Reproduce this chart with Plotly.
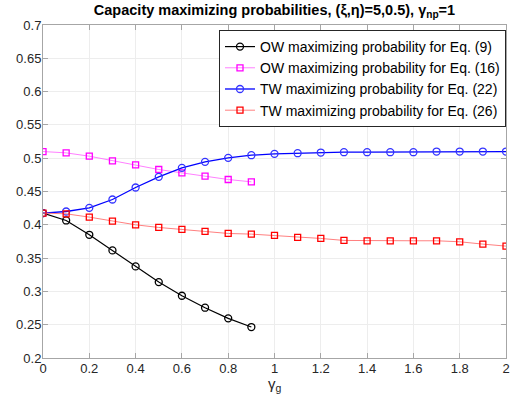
import plotly.graph_objects as go

x_ow = [0, 0.1, 0.2, 0.3, 0.4, 0.5, 0.6, 0.7, 0.8, 0.9]
x_tw = [0, 0.1, 0.2, 0.3, 0.4, 0.5, 0.6, 0.7, 0.8, 0.9, 1.0,
        1.1, 1.2, 1.3, 1.4, 1.5, 1.6, 1.7, 1.8, 1.9, 2.0]

ow_eq9 = [0.4175, 0.4065, 0.385, 0.3615, 0.3375, 0.314, 0.2935, 0.2755, 0.2595, 0.2465]
ow_eq16 = [0.510, 0.508, 0.503, 0.496, 0.490, 0.483, 0.478, 0.473, 0.468, 0.4645]
tw_eq22 = [0.4175, 0.420, 0.4255, 0.438, 0.456, 0.472, 0.4855, 0.4945, 0.5005, 0.5045,
           0.5065, 0.5075, 0.5085, 0.509, 0.509, 0.509, 0.509, 0.510, 0.510, 0.510, 0.510]
tw_eq26 = [0.4175, 0.4165, 0.4115, 0.4055, 0.400, 0.396, 0.393, 0.390, 0.387, 0.386,
           0.384, 0.381, 0.3795, 0.3765, 0.376, 0.376, 0.376, 0.376, 0.3745, 0.371, 0.368]

names = ["OW maximizing probability for Eq. (9)",
         "OW maximizing probability for Eq. (16)",
         "TW maximizing probability for Eq. (22)",
         "TW maximizing probability for Eq. (26)"]

x_ticks = [0, 0.2, 0.4, 0.6, 0.8, 1, 1.2, 1.4, 1.6, 1.8, 2]
x_tick_labels = ["0", "0.2", "0.4", "0.6", "0.8", "1", "1.2", "1.4", "1.6", "1.8", "2"]
y_ticks = [0.2, 0.25, 0.3, 0.35, 0.4, 0.45, 0.5, 0.55, 0.6, 0.65, 0.7]
y_tick_labels = ["0.2", "0.25", "0.3", "0.35", "0.4", "0.45", "0.5", "0.55", "0.6", "0.65", "0.7"]

FONT = "Liberation Sans, Arial, Helvetica, sans-serif"
TXT = "#262626"

fig = go.Figure()
fig.add_trace(go.Scatter(x=x_ow, y=ow_eq9, name=names[0], mode="lines+markers",
                         line=dict(color="#000000", width=1.2),
                         marker=dict(symbol="circle-open", size=7, color="#000000",
                                     line=dict(width=1.3))))
fig.add_trace(go.Scatter(x=x_ow, y=ow_eq16, name=names[1], mode="lines+markers",
                         line=dict(color="#ff80ff", width=1),
                         marker=dict(symbol="square-open", size=6, color="#ff00ff",
                                     line=dict(width=1.3))))
fig.add_trace(go.Scatter(x=x_tw, y=tw_eq22, name=names[2], mode="lines+markers",
                         line=dict(color="#0000ff", width=1.3),
                         marker=dict(symbol="circle-open", size=7, color="#3333ff",
                                     line=dict(width=1.3))))
fig.add_trace(go.Scatter(x=x_tw, y=tw_eq26, name=names[3], mode="lines+markers",
                         line=dict(color="#ff8080", width=1),
                         marker=dict(symbol="square-open", size=6, color="#ff0000",
                                     line=dict(width=1.3))))

axis_common = dict(showline=True, linecolor="#a6a6a6", linewidth=1, mirror="ticks",
                   ticks="inside", ticklen=5, tickcolor="#a6a6a6", tickwidth=1,
                   showgrid=True, gridcolor="#ededed", gridwidth=1, zeroline=False,
                   automargin=False,
                   tickfont=dict(family=FONT, size=13, color=TXT))

fig.update_xaxes(range=[0, 2], tickvals=x_ticks, ticktext=x_tick_labels,
                 ticklabelstandoff=-2, **axis_common)
fig.update_yaxes(range=[0.2, 0.7], tickvals=y_ticks, ticktext=y_tick_labels,
                 ticklabelstandoff=-2, **axis_common)

fig.add_annotation(text="γ<sub>g</sub>", x=1, xref="x", y=-0.045, yref="paper",
                   xanchor="center", yanchor="top", showarrow=False,
                   font=dict(family=FONT, size=15, color=TXT))

fig.update_layout(
    width=516, height=400,
    margin=dict(l=43, r=10, t=25, b=42),
    paper_bgcolor="white", plot_bgcolor="white",
    title=dict(text="<b>Capacity maximizing probabilities, (ξ,η)=5,0.5), γ<sub>np</sub>=1</b>",
               x=(43 + 506) / 2 / 516, xanchor="center", y=0.975, yanchor="middle",
               font=dict(family=FONT, size=14.5, color="#000000")),
    legend=dict(x=1.0, xanchor="right", y=0.985, yanchor="top",
                bgcolor="white", bordercolor="#262626", borderwidth=1,
                font=dict(family=FONT, size=14, color="#000000"),
                tracegroupgap=0, itemwidth=30),
    showlegend=True,
)

fig.write_html("out.html", config={"displayModeBar": False},
               post_script="document.body.style.margin='0';")
